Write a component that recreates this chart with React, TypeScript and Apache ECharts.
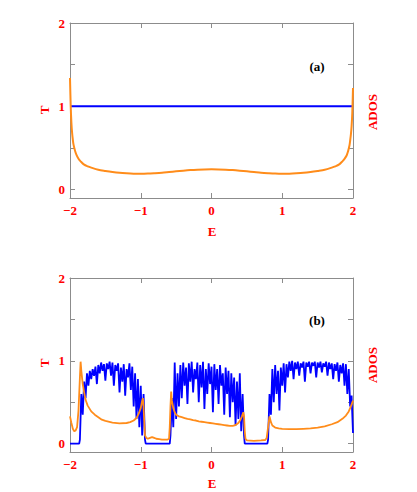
import React, { useEffect, useRef } from "react";
import * as echarts from "echarts";

// ---------- Panel (a) ----------
const aTE: number[] = [-2, 2];
const aTV: number[] = [1, 1];

const aDosE: number[] = [
  -2.0, -1.99, -1.98, -1.97, -1.96, -1.95, -1.93, -1.91, -1.88, -1.85, -1.8, -1.75, -1.7, -1.6, -1.5, -1.4,
  -1.3, -1.2, -1.1, -1.0, -0.9, -0.8, -0.7, -0.6, -0.5, -0.4, -0.3, -0.2, -0.1, 0.0,
  0.1, 0.2, 0.3, 0.4, 0.5, 0.6, 0.7, 0.8, 0.9, 1.0, 1.1, 1.2, 1.3, 1.4, 1.5, 1.6, 1.7, 1.75, 1.8, 1.85,
  1.88, 1.91, 1.93, 1.95, 1.96, 1.97, 1.98, 1.99, 2.0,
];
const aDosV: number[] = [
  1.34, 1.0, 0.8, 0.68, 0.6, 0.54, 0.47, 0.42, 0.37, 0.34, 0.3, 0.28, 0.265, 0.24, 0.225, 0.212,
  0.202, 0.196, 0.192, 0.191, 0.193, 0.198, 0.204, 0.212, 0.22, 0.228, 0.235, 0.24, 0.243, 0.244,
  0.243, 0.24, 0.235, 0.228, 0.22, 0.212, 0.204, 0.198, 0.193, 0.191, 0.192, 0.196, 0.202, 0.212, 0.225, 0.24, 0.265, 0.28, 0.3, 0.34,
  0.37, 0.41, 0.46, 0.53, 0.59, 0.66, 0.76, 0.92, 1.22,
];

// ---------- Panel (b) ----------
// transmission: gaps (T = 0) and three bands sampled every 0.02 in E
const bGap1: number[][] = [[-2.0, 0], [-1.87, 0]];
const bBand1Start = -1.86;
const bBand1: number[] = [
  0.05, 0.6, 0.35, 0.75, 0.55, 0.85, 0.7, 0.88, 0.78, 0.9, 0.82, 0.93, 0.72, 0.95, 0.85, 0.98,
  0.88, 0.96, 0.76, 0.97, 0.9, 0.99, 0.82, 0.98, 0.7, 0.95, 0.88, 0.97, 0.62, 0.92, 0.75, 0.96,
  0.58, 0.9, 0.8, 0.97, 0.65, 0.93, 0.45, 0.85, 0.3, 0.78, 0.2, 0.7, 0.1, 0.6, 0.05,
];
const bGap2: number[][] = [[-0.93, 0], [-0.59, 0]];
const bBand2Start = -0.58;
const bBand2: number[] = [
  0.1, 0.55, 0.2, 0.98, 0.3, 0.85, 0.45, 0.95, 0.55, 0.98, 0.7, 0.92, 0.48, 0.97, 0.75, 0.99,
  0.62, 0.9, 0.78, 0.98, 0.5, 0.95, 0.68, 0.99, 0.42, 0.9, 0.6, 0.97, 0.72, 0.93, 0.38, 0.96,
  0.65, 0.9, 0.48, 0.95, 0.7, 0.85, 0.35, 0.92, 0.6, 0.88, 0.32, 0.85, 0.5, 0.8, 0.22, 0.75,
  0.3, 0.85, 0.15, 0.6, 0.1,
];
const bGap3: number[][] = [[0.47, 0], [0.79, 0]];
const bBand3Start = 0.8;
const bBand3: number[] = [
  0.05, 0.6, 0.35, 0.9, 0.5, 0.95, 0.6, 0.88, 0.4, 0.92, 0.7, 0.97, 0.62, 0.96, 0.8, 0.99,
  0.88, 1.0, 0.78, 0.98, 0.9, 0.99, 0.82, 0.97, 0.92, 0.99, 0.75, 0.98, 0.93, 0.99, 0.85, 0.98,
  0.94, 0.99, 0.8, 0.98, 0.92, 0.99, 0.86, 0.97, 0.93, 0.99, 0.82, 0.98, 0.9, 0.97, 0.78, 0.96,
  0.88, 0.98, 0.75, 0.95, 0.85, 0.97, 0.7, 0.96, 0.6, 0.9, 0.45, 0.58, 0.13,
];

const bDosE: number[] = [
  -2.0, -1.98, -1.96, -1.94, -1.92, -1.9, -1.88, -1.86, -1.85, -1.84, -1.82, -1.8, -1.78, -1.75, -1.7, -1.65,
  -1.6, -1.55, -1.5, -1.4, -1.3, -1.2, -1.15, -1.1, -1.06, -1.03, -1.0, -0.98, -0.97, -0.96, -0.95, -0.94,
  -0.92, -0.9, -0.87, -0.84, -0.81, -0.78, -0.74, -0.7, -0.66, -0.62, -0.6, -0.59, -0.58, -0.57, -0.56, -0.54,
  -0.52, -0.5, -0.46, -0.42, -0.38, -0.34, -0.3, -0.26, -0.22, -0.18, -0.14, -0.1, -0.06, -0.02,
  0.02, 0.06, 0.1, 0.14, 0.18, 0.22, 0.26, 0.3, 0.34, 0.38, 0.41, 0.43, 0.45, 0.46, 0.47, 0.48,
  0.5, 0.6, 0.7, 0.76, 0.78, 0.8, 0.82, 0.84, 0.86, 0.9, 0.95, 1.0, 1.1, 1.2, 1.3, 1.4,
  1.5, 1.6, 1.7, 1.78, 1.85, 1.9, 1.94, 1.97, 2.0,
];
const bDosV: number[] = [
  0.33, 0.25, 0.18, 0.15, 0.16, 0.2, 0.4, 0.8, 0.99, 0.88, 0.72, 0.62, 0.53, 0.46, 0.39, 0.35,
  0.32, 0.29, 0.275, 0.255, 0.245, 0.25, 0.26, 0.28, 0.31, 0.36, 0.43, 0.52, 0.55, 0.45, 0.25, 0.1,
  0.07, 0.06, 0.07, 0.08, 0.07, 0.06, 0.055, 0.05, 0.05, 0.05, 0.06, 0.2, 0.45, 0.63, 0.52, 0.43,
  0.38, 0.35, 0.33, 0.32, 0.31, 0.3, 0.295, 0.285, 0.28, 0.27, 0.265, 0.26, 0.255, 0.25,
  0.245, 0.24, 0.235, 0.23, 0.225, 0.22, 0.215, 0.215, 0.225, 0.25, 0.29, 0.33, 0.38, 0.33, 0.15, 0.06,
  0.04, 0.035, 0.04, 0.045, 0.07, 0.2, 0.33, 0.26, 0.22, 0.195, 0.185, 0.18, 0.175, 0.175, 0.18, 0.185,
  0.195, 0.21, 0.235, 0.26, 0.3, 0.34, 0.39, 0.45, 0.52,
];

const xTicks: number[] = [-2, -1, 0, 1, 2];
const yLabels: number[] = [0, 1, 2];
const yTicks: number[] = [0, 0.5, 1, 1.5, 2];

const RED = "#ff0000";
const BLUE = "#0000ff";
const ORANGE = "#ff8c1a";
const GRAY = "#8c8c8c";
const FONT = "'Liberation Serif', 'DejaVu Serif', serif";

const pairs = (xs: number[], ys: number[]) => xs.map((x, i) => [x, ys[i]]);
const band = (start: number, vals: number[]) =>
  vals.map((v, i) => [Math.round((start + i * 0.02) * 100) / 100, v]);

const fmtX = (v: number) => (v < 0 ? "\u2212" + Math.abs(v) : String(v));

export default function App() {
  const ref = useRef<HTMLDivElement>(null);
  useEffect(() => {
    if (!ref.current) return;
    const chart = echarts.init(ref.current, undefined, { renderer: "svg" });

    const grids = [
      { left: 70, top: 23, width: 283, height: 175 },
      { left: 70, top: 278, width: 283, height: 174 },
    ];

    const axisLine = { show: true, onZero: false, lineStyle: { color: GRAY, width: 1 } };

    const xAxes: any[] = [];
    const yAxes: any[] = [];
    grids.forEach((_, gi) => {
      xAxes.push({
        type: "value",
        gridIndex: gi,
        position: "bottom",
        min: -2,
        max: 2,
        interval: 1,
        axisLine,
        axisTick: { show: true, inside: true, length: 5, lineStyle: { color: GRAY } },
        splitLine: { show: false },
        axisLabel: {
          color: RED,
          fontFamily: FONT,
          fontWeight: "bold",
          fontSize: 13,
          margin: 6,
          formatter: fmtX,
          customValues: xTicks,
        },
      });
      xAxes.push({
        type: "value",
        gridIndex: gi,
        position: "top",
        min: -2,
        max: 2,
        interval: 1,
        axisLine,
        axisTick: { show: true, inside: true, length: 5, lineStyle: { color: GRAY } },
        splitLine: { show: false },
        axisLabel: { show: false },
      });
      yAxes.push({
        type: "value",
        gridIndex: gi,
        position: "left",
        min: -0.1,
        max: 2,
        axisLine,
        axisTick: { show: true, inside: true, length: 5, customValues: yTicks, lineStyle: { color: GRAY } },
        splitLine: { show: false },
        axisLabel: {
          color: RED,
          fontFamily: FONT,
          fontWeight: "bold",
          fontSize: 13,
          margin: 5,
          customValues: yLabels,
        },
      });
      yAxes.push({
        type: "value",
        gridIndex: gi,
        position: "right",
        min: -0.1,
        max: 2,
        axisLine,
        axisTick: { show: true, inside: true, length: 5, customValues: yTicks, lineStyle: { color: GRAY } },
        splitLine: { show: false },
        axisLabel: { show: false },
      });
    });

    const bT = [
      ...bGap1,
      ...band(bBand1Start, bBand1),
      ...bGap2,
      ...band(bBand2Start, bBand2),
      ...bGap3,
      ...band(bBand3Start, bBand3),
    ];

    const lineBase = { type: "line", showSymbol: false, symbol: "none", clip: true, silent: true };

    const labelStyle = (text: string, x: number, y: number, rot = 0, color = RED) => ({
      type: "text",
      x,
      y,
      rotation: rot,
      style: {
        text,
        fill: color,
        font: `bold 13px ${FONT}`,
        align: "center",
        verticalAlign: "middle",
      },
    });

    chart.setOption({
      animation: false,
      backgroundColor: "#ffffff",
      grid: grids,
      xAxis: xAxes,
      yAxis: yAxes,
      series: [
        { ...lineBase, name: "T (a)", xAxisIndex: 0, yAxisIndex: 0, data: pairs(aTE, aTV), lineStyle: { color: BLUE, width: 2 } },
        { ...lineBase, name: "ADOS (a)", xAxisIndex: 0, yAxisIndex: 1, data: pairs(aDosE, aDosV), smooth: 0.3, lineStyle: { color: ORANGE, width: 2 } },
        { ...lineBase, name: "T (b)", xAxisIndex: 2, yAxisIndex: 2, data: bT, lineStyle: { color: BLUE, width: 1.8 } },
        { ...lineBase, name: "ADOS (b)", xAxisIndex: 2, yAxisIndex: 3, data: pairs(bDosE, bDosV), lineStyle: { color: ORANGE, width: 1.8 } },
      ],
      graphic: [
        labelStyle("T", 44, 110, Math.PI / 2),
        labelStyle("ADOS", 372, 112, Math.PI / 2),
        labelStyle("E", 212, 231),
        labelStyle("(a)", 317, 66, 0, "#000000"),
        labelStyle("T", 44, 363, Math.PI / 2),
        labelStyle("ADOS", 372, 365, Math.PI / 2),
        labelStyle("E", 212, 483),
        labelStyle("(b)", 317, 320, 0, "#000000"),
      ],
    });
    return () => chart.dispose();
  }, []);
  return (
    <div
      ref={ref}
      style={{ position: "fixed", left: 0, top: 0, width: 417, height: 492, background: "#fff" }}
    />
  );
}
